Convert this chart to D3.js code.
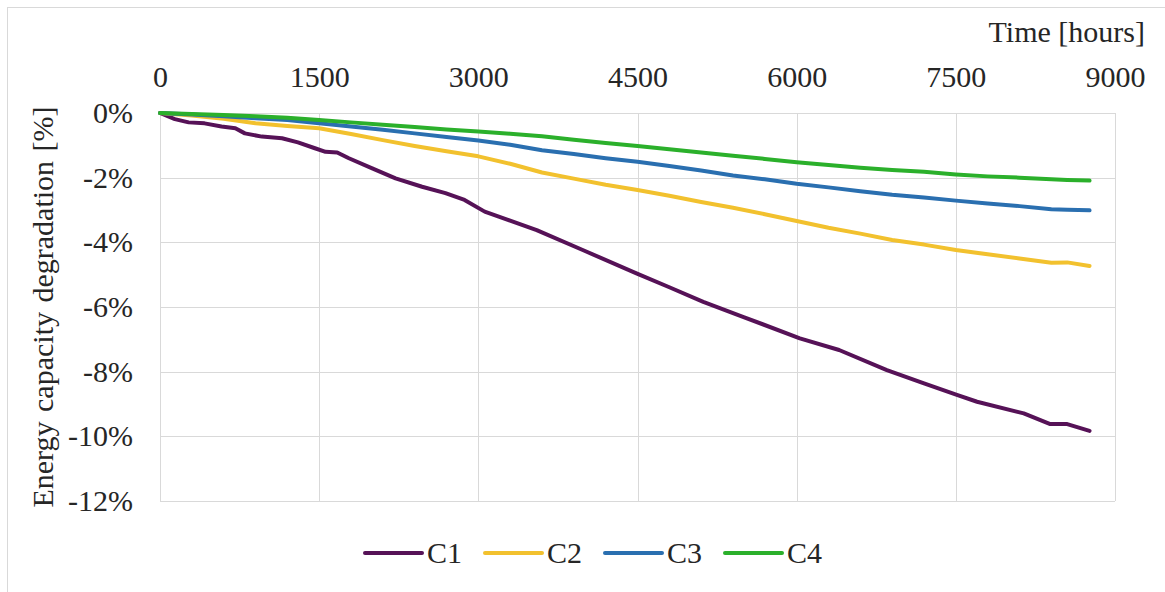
<!DOCTYPE html>
<html>
<head>
<meta charset="utf-8">
<script src="https://cdn.jsdelivr.net/npm/d3@7"></script>
<style>
  html, body { margin: 0; padding: 0; background: #fff; }
  svg { display: block; }
</style>
</head>
<body>
<svg id="chart" width="1165" height="592"></svg>
<script>
// C1 is logged more densely: it shows small steps in the first months
const c1Hours = [0, 140, 270, 420, 580, 710, 800, 960, 1150, 1300, 1460, 1560, 1670, 1780, 2000, 2220, 2470,
  2690, 2870, 3060, 3550, 4000, 4490, 4800, 5120, 5500, 6030, 6400, 6850, 7200, 7510, 7700, 8140, 8390, 8550, 8760];
const c1 = [0, -0.19, -0.29, -0.32, -0.42, -0.47, -0.63, -0.73, -0.78, -0.91, -1.09, -1.20, -1.22, -1.40, -1.71,
  -2.02, -2.28, -2.48, -2.69, -3.05, -3.62, -4.26, -4.96, -5.39, -5.84, -6.31, -6.97, -7.33, -7.95, -8.36, -8.72,
  -8.93, -9.29, -9.62, -9.62, -9.83];

// Operating time (hours) for C2–C4
const hours = [0, 300, 600, 900, 1200, 1500, 1800, 2100, 2400, 2700, 3000, 3300, 3600, 3900, 4200,
  4500, 4800, 5100, 5400, 5700, 6000, 6300, 6600, 6900, 7200, 7500, 7800, 8100, 8400, 8550, 8760];

// Energy capacity degradation [%]
const c2 = [0, -0.08, -0.18, -0.32, -0.40, -0.47, -0.65, -0.84, -1.02, -1.18, -1.34, -1.57, -1.84, -2.03, -2.22,
  -2.38, -2.56, -2.75, -2.93, -3.13, -3.34, -3.55, -3.73, -3.93, -4.07, -4.24, -4.37, -4.50, -4.63, -4.62, -4.73];
const c3 = [0, -0.05, -0.10, -0.16, -0.22, -0.32, -0.42, -0.52, -0.63, -0.74, -0.85, -0.98, -1.15, -1.27, -1.40,
  -1.51, -1.64, -1.78, -1.93, -2.05, -2.19, -2.30, -2.42, -2.53, -2.61, -2.71, -2.80, -2.88, -2.98, -2.99, -3.01];
const c4 = [0, -0.03, -0.06, -0.10, -0.15, -0.22, -0.29, -0.36, -0.43, -0.51, -0.57, -0.64, -0.72, -0.83, -0.93,
  -1.02, -1.12, -1.22, -1.32, -1.42, -1.52, -1.61, -1.69, -1.76, -1.82, -1.90, -1.96, -2.00, -2.05, -2.07, -2.09];

const seriesNames = ["C1", "C2", "C3", "C4"];
const seriesColors = ["#561257", "#f2c12e", "#2a6fb0", "#2bb02b"];
const xTicks = [0, 1500, 3000, 4500, 6000, 7500, 9000];
const yTicks = [0, -2, -4, -6, -8, -10, -12];
const xTitle = "Time [hours]";
const yTitle = "Energy capacity degradation [%]";

const pairs = (hs, vs) => hs.map((h, j) => ({ h, v: vs[j] }));
const series = [
  { name: seriesNames[0], color: seriesColors[0], values: pairs(c1Hours, c1) },
  { name: seriesNames[1], color: seriesColors[1], values: pairs(hours, c2) },
  { name: seriesNames[2], color: seriesColors[2], values: pairs(hours, c3) },
  { name: seriesNames[3], color: seriesColors[3], values: pairs(hours, c4) }
];

const svg = d3.select("#chart");
const W = 1165, H = 592;
const plot = { left: 160, right: 1115, top: 113, bottom: 501 };
const FONT = "Liberation Serif";
const FS = 30;
const INK = "#262626";

// outer chart frame
svg.append("rect")
  .attr("x", 7.5).attr("y", 7.5)
  .attr("width", W + 20).attr("height", H + 20)
  .attr("fill", "#fff").attr("stroke", "#d9d9d9").attr("stroke-width", 1);

const x = d3.scaleLinear().domain([0, 9000]).range([plot.left, plot.right]);
const y = d3.scaleLinear().domain([0, -12]).range([plot.top, plot.bottom]);

// gridlines
const grid = svg.append("g");
grid.selectAll("line.v").data(xTicks).join("line")
  .attr("x1", d => Math.round(x(d)) + 0.5).attr("x2", d => Math.round(x(d)) + 0.5)
  .attr("y1", plot.top).attr("y2", plot.bottom)
  .attr("stroke", "#d9d9d9").attr("stroke-width", 1);
grid.selectAll("line.h").data(yTicks).join("line")
  .attr("y1", d => Math.round(y(d)) + 0.5).attr("y2", d => Math.round(y(d)) + 0.5)
  .attr("x1", plot.left).attr("x2", plot.right)
  .attr("stroke", "#d9d9d9").attr("stroke-width", 1);

// x axis on top
const xAxis = svg.append("g")
  .attr("transform", "translate(0,87)")
  .call(d3.axisTop(x).tickValues(xTicks).tickSize(0).tickPadding(0).tickFormat(d3.format("d")));
xAxis.attr("font-family", FONT).attr("font-size", FS);
xAxis.select(".domain").remove();
xAxis.selectAll("text").attr("fill", INK);

// y axis
const yAxis = svg.append("g")
  .attr("transform", "translate(133,0)")
  .call(d3.axisLeft(y).tickValues(yTicks).tickSize(0).tickPadding(0).tickFormat(d => d + "%"));
yAxis.attr("font-family", FONT).attr("font-size", FS);
yAxis.select(".domain").remove();
yAxis.selectAll("text").attr("fill", INK);

// axis titles
svg.append("text")
  .attr("x", 1145).attr("y", 42)
  .attr("text-anchor", "end")
  .attr("font-family", FONT).attr("font-size", FS).attr("fill", INK)
  .text(xTitle);

svg.append("text")
  .attr("transform", `translate(53,${(plot.top + plot.bottom) / 2}) rotate(-90)`)
  .attr("text-anchor", "middle")
  .attr("font-family", FONT).attr("font-size", FS).attr("fill", INK)
  .attr("word-spacing", 2)
  .text(yTitle);

// series lines
const line = d3.line().x(d => x(d.h)).y(d => y(d.v)).curve(d3.curveLinear);
svg.append("g").selectAll("path").data(series).join("path")
  .attr("d", d => line(d.values))
  .attr("fill", "none")
  .attr("stroke", d => d.color)
  .attr("stroke-width", 4)
  .attr("stroke-linejoin", "round")
  .attr("stroke-linecap", "round");

// legend
const legend = svg.append("g").attr("transform", "translate(365,553)");
const item = legend.selectAll("g").data(series).join("g")
  .attr("transform", (d, i) => `translate(${i * 120},0)`);
item.append("line")
  .attr("x1", 0).attr("x2", 57).attr("y1", 0).attr("y2", 0)
  .attr("stroke", d => d.color).attr("stroke-width", 4).attr("stroke-linecap", "round");
item.append("text")
  .attr("x", 62).attr("y", 10)
  .attr("font-family", FONT).attr("font-size", FS).attr("fill", INK)
  .text(d => d.name);
</script>
</body>
</html>
